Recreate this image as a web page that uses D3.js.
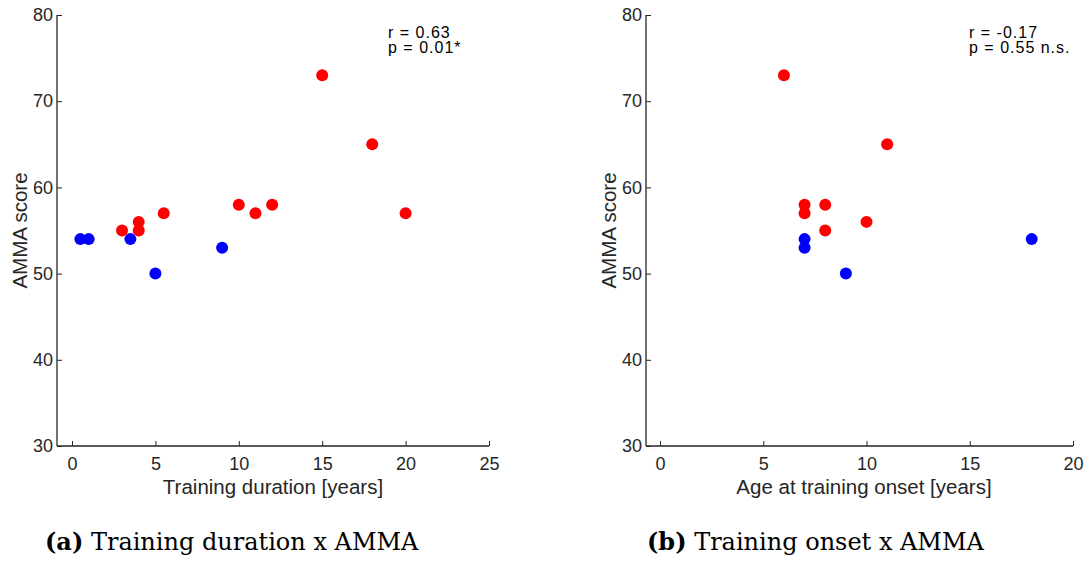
<!DOCTYPE html>
<html><head><meta charset="utf-8">
<script src="https://cdn.jsdelivr.net/npm/d3@7"></script>
<style>body{margin:0;background:#fff}svg{display:block}</style>
</head><body>
<svg id="c" width="1091" height="561"></svg>
<script>
// Panel (a): Training duration vs AMMA score
const durBlueX = [0.5, 1, 3.5, 5, 9];
const durBlueY = [54, 54, 54, 50, 53];
const durRedX = [3, 4, 4, 5.5, 10, 11, 12, 15, 18, 20];
const durRedY = [55, 55, 56, 57, 58, 57, 58, 73, 65, 57];
// Panel (b): Age at training onset vs AMMA score
const onsBlueX = [7, 7, 9, 18];
const onsBlueY = [54, 53, 50, 54];
const onsRedX = [6, 11, 7, 7, 8, 8, 10];
const onsRedY = [73, 65, 58, 57, 58, 55, 56];
const yTicks = [30, 40, 50, 60, 70, 80];
const xTicksA = [0, 5, 10, 15, 20, 25];
const xTicksB = [0, 5, 10, 15, 20];

const svg = d3.select("#c");
const ink = "#262626";
const font = "'Liberation Sans', Arial, sans-serif";

function panel(o) {
  const g = svg.append("g");
  const x = d3.scaleLinear().domain(o.xDomain).range([o.left, o.right]);
  const y = d3.scaleLinear().domain([30, 80]).range([o.bottom, o.top]);
  const ya = g.append("g").attr("transform", `translate(${o.left},0)`)
    .call(d3.axisLeft(y).tickValues(yTicks).tickSize(-5).tickPadding(4));
  const xa = g.append("g").attr("transform", `translate(0,${o.bottom})`)
    .call(d3.axisBottom(x).tickValues(o.xTicks).tickSize(-5).tickPadding(11));
  [ya, xa].forEach(a => {
    a.select(".domain").attr("stroke", ink).attr("stroke-width", 1.3);
    a.selectAll(".tick line").attr("stroke", ink).attr("stroke-width", 1);
    a.selectAll("text").attr("fill", ink).style("font-family", font).style("font-size", "18px");
  });
  ya.select(".domain").attr("d", `M0,${o.bottom}V${o.top}`);
  xa.select(".domain").attr("d", `M${o.left},0H${o.right}`);
  // labels
  g.append("text").attr("x", o.xLabelX).attr("y", 494)
    .attr("text-anchor", "middle").attr("fill", ink)
    .style("font-family", font).style("font-size", "20.5px").text(o.xLabel);
  g.append("text").attr("transform", `translate(${o.left - 30},${(o.top + o.bottom) / 2}) rotate(-90)`)
    .attr("text-anchor", "middle").attr("fill", ink)
    .style("font-family", font).style("font-size", "20.5px").text("AMMA score");
  // points
  const red = o.redX.map((v, i) => [v, o.redY[i]]);
  const blue = o.blueX.map((v, i) => [v, o.blueY[i]]);
  g.selectAll(".r").data(red).join("circle").attr("cx", d => x(d[0])).attr("cy", d => y(d[1]))
    .attr("r", 6).attr("fill", "#ff0000");
  g.selectAll(".b").data(blue).join("circle").attr("cx", d => x(d[0])).attr("cy", d => y(d[1]))
    .attr("r", 6).attr("fill", "#0000ff");
  // stats
  const st = g.append("text").attr("fill", "#000").style("font-family", font)
    .style("font-size", "16px").style("letter-spacing", "1px");
  st.append("tspan").attr("x", o.statX).attr("y", 38).text(o.stat1);
  st.append("tspan").attr("x", o.statX).attr("y", 53).text(o.stat2);
  // caption
  const cap = g.append("text").attr("x", o.capX).attr("y", 550).attr("fill", "#000")
    .style("font-family", "'DejaVu Serif', 'Liberation Serif', serif").style("font-size", "24px");
  cap.append("tspan").style("font-weight", "bold").text(o.capTag);
  cap.append("tspan").text(" " + o.capText);
}

panel({left: 57, right: 489, top: 15, bottom: 446, xDomain: [-0.9, 25], xTicks: xTicksA,
  xLabel: "Training duration [years]", xLabelX: 273,
  redX: durRedX, redY: durRedY, blueX: durBlueX, blueY: durBlueY,
  statX: 388, stat1: "r = 0.63", stat2: "p = 0.01*", capX: 45, capTag: "(a)", capText: "Training duration x AMMA"});
panel({left: 646, right: 1073, top: 15, bottom: 446, xDomain: [-0.68, 20], xTicks: xTicksB,
  xLabel: "Age at training onset [years]", xLabelX: 864,
  redX: onsRedX, redY: onsRedY, blueX: onsBlueX, blueY: onsBlueY,
  statX: 969, stat1: "r = -0.17", stat2: "p = 0.55 n.s.", capX: 647, capTag: "(b)", capText: "Training onset x AMMA"});
</script>
</body></html>
